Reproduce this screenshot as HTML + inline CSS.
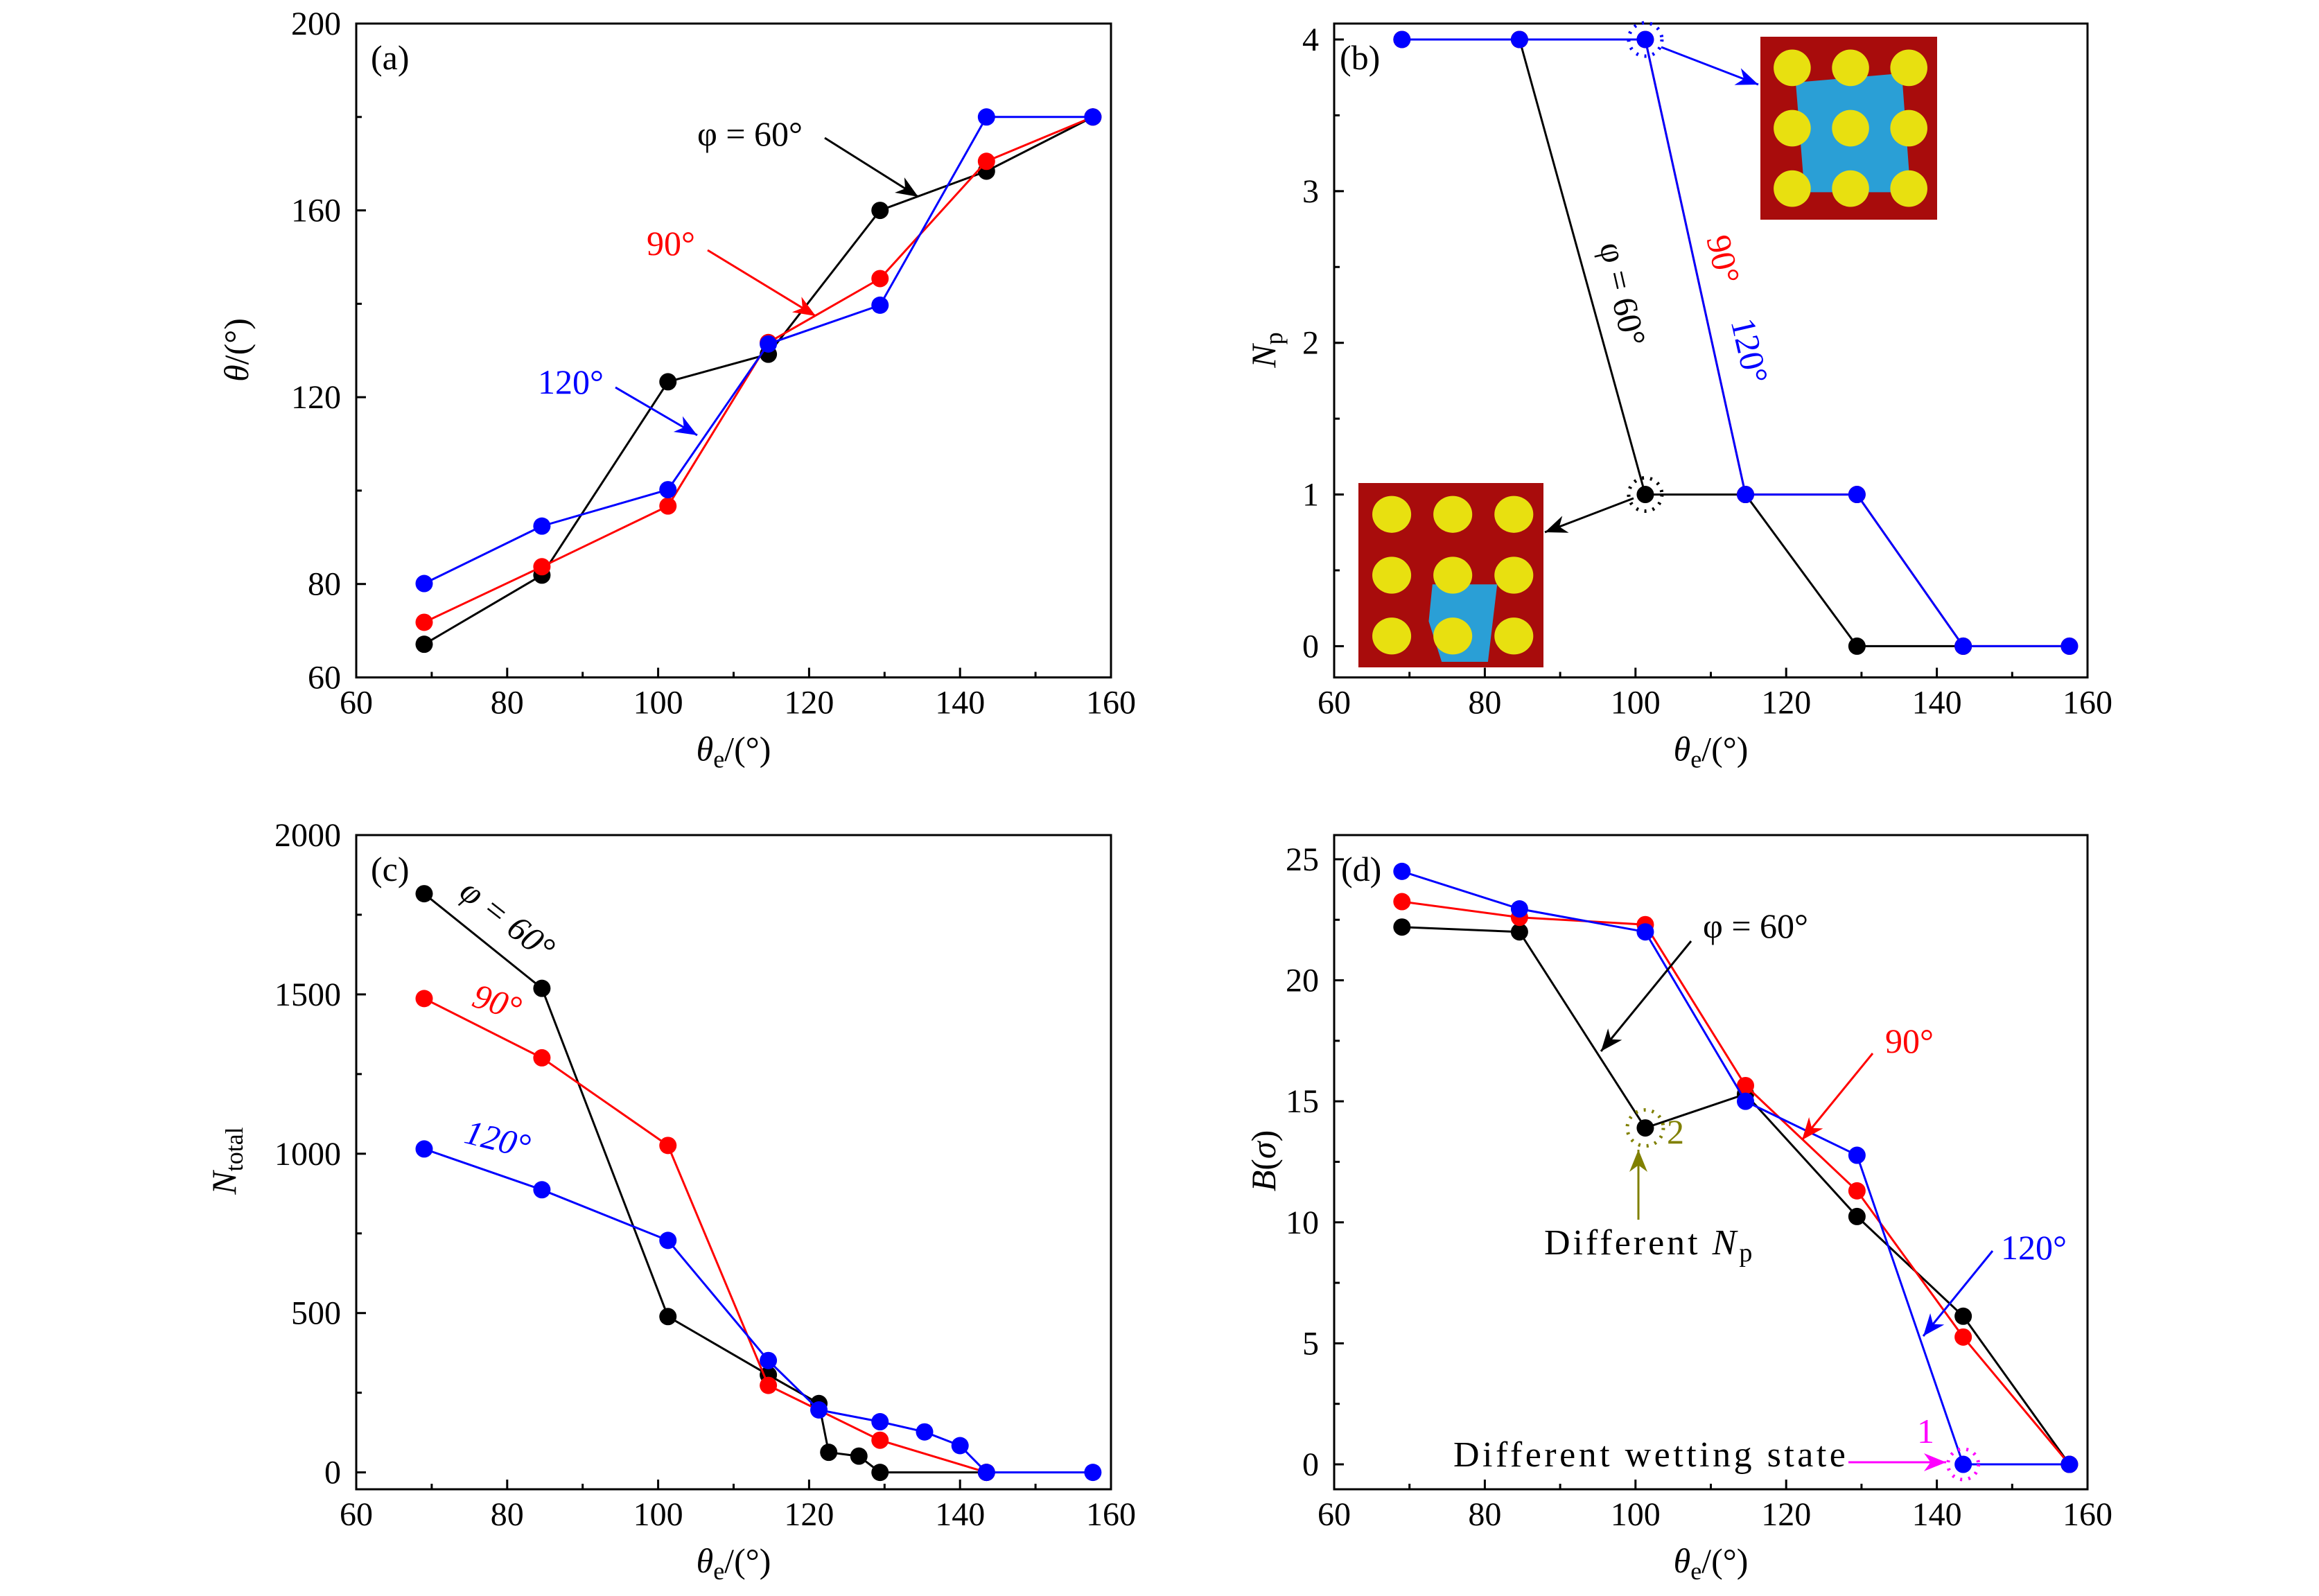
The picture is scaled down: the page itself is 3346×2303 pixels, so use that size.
<!DOCTYPE html>
<html>
<head>
<meta charset="utf-8">
<style>
html,body{margin:0;padding:0;background:#fff;}
svg{display:block;font-family:"Liberation Serif",serif;}
</style>
</head>
<body>
<svg id="fig" width="3346" height="2303" viewBox="0 0 3346 2303" xmlns="http://www.w3.org/2000/svg">
</svg>
<script>
// shared x categories (theta_e)
const xVals = [69.0, 84.6, 101.3, 114.6, 129.4, 143.5, 157.6];
// panel (a) theta
const aBlack = [67.1, 81.9, 123.3, 129.2, 160.0, 168.4, 180.0];
const aRed   = [71.8, 83.7, 96.7, 131.7, 145.4, 170.5, 180.0];
const aBlue  = [80.1, 92.4, 100.2, 131.4, 139.7, 180.0, 180.0];
// panel (b) Np
const bBlack = [4, 4, 1, 1, 0, 0, 0];
const bRed   = [4, 4, 4, 1, 1, 0, 0];
const bBlue  = [4, 4, 4, 1, 1, 0, 0];
// panel (c) Ntotal
const cBlackX = [69.0, 84.6, 101.3, 114.6, 121.3, 122.6, 126.6, 129.4, 143.5];
const cBlack  = [1816, 1519, 489, 306, 216, 63, 51, 0, 0];
const cRedX = [69.0, 84.6, 101.3, 114.6, 129.4, 143.5];
const cRed  = [1487, 1301, 1026, 273, 101, 0];
const cBlueX = [69.0, 84.6, 101.3, 114.6, 121.3, 129.4, 135.3, 140.0, 143.5, 157.6];
const cBlue  = [1015, 887, 728, 351, 196, 159, 127, 84, 0, 0];
// panel (d) B(sigma)
const dBlack = [22.2, 22.0, 13.9, 15.3, 10.24, 6.12, 0];
const dRed   = [23.25, 22.6, 22.3, 15.65, 11.3, 5.26, 0];
const dBlue  = [24.5, 22.95, 22.0, 15.0, 12.77, 0, 0];
// ticks
const xTicks = [60, 80, 100, 120, 140, 160];
const aTicks = [60, 80, 120, 160, 200];
const bTicks = [0, 1, 2, 3, 4];
const cTicks = [0, 500, 1000, 1500, 2000];
const dTicks = [0, 5, 10, 15, 20, 25];

const NS = "http://www.w3.org/2000/svg";
const svg = document.getElementById('fig');
function mk(tag, attrs, parent, text){
  const e = document.createElementNS(NS, tag);
  for (const k in attrs) e.setAttribute(k, attrs[k]);
  if (text !== undefined) e.textContent = text;
  (parent || svg).appendChild(e);
  return e;
}
const BLK="#000", RED="#ff0000", BLU="#0000ff";

function panel(name, box, ymin, ymax, yTicks, yMinorStep, yMinorStart){
  const g = mk('g', {});
  
  
  const sx = v => box.x0 + (v - 60) / 100 * (box.x1 - box.x0);
  const sy = v => box.y1 - (v - ymin) / (ymax - ymin) * (box.y1 - box.y0);
  const fr = mk('rect', {x:box.x0, y:box.y0, width:box.x1-box.x0, height:box.y1-box.y0, fill:'none', stroke:'#000','stroke-width':3}, g);
  
  
  xTicks.forEach(t => {
    const x = sx(t);
    mk('line', {x1:x, x2:x, y1:box.y1, y2:box.y1-14, stroke:'#000','stroke-width':3}, g);
    const tl = mk('text', {x:x, y:box.y1+52, 'text-anchor':'middle','font-size':48}, g, String(t));
    
    
  });
  for (let t = 70; t < 160; t += 20){
    const x = sx(t);
    mk('line', {x1:x, x2:x, y1:box.y1, y2:box.y1-8, stroke:'#000','stroke-width':3}, g);
  }
  yTicks.forEach(t => {
    const y = sy(t);
    mk('line', {x1:box.x0, x2:box.x0+14, y1:y, y2:y, stroke:'#000','stroke-width':3}, g);
    const tl = mk('text', {x:box.x0-22, y:y+16, 'text-anchor':'end','font-size':48}, g, String(t));
    
    
  });
  for (let t = yMinorStart; t < ymax; t += yMinorStep){
    const y = sy(t);
    mk('line', {x1:box.x0, x2:box.x0+8, y1:y, y2:y, stroke:'#000','stroke-width':3}, g);
  }
  const xl = mk('text', {x:(box.x0+box.x1)/2, y:box.y1+120, 'text-anchor':'middle','font-size':50}, g);
  
  
  mk('tspan', {'font-style':'italic'}, xl, 'θ');
  mk('tspan', {'font-size':36, dy:10}, xl, 'e');
  mk('tspan', {dy:-10}, xl, '/(°)');
  return {g, sx, sy};
}

function series(p, xs, ys, color, label){
  const pts = xs.map((x,i) => p.sx(x).toFixed(1) + ',' + p.sy(ys[i]).toFixed(1)).join(' ');
  const pl = mk('polyline', {points:pts, fill:'none', stroke:color, 'stroke-width':3}, p.g);
  
  
  xs.forEach((x,i) => {
    const c = mk('circle', {cx:p.sx(x), cy:p.sy(ys[i]), r:12.5, fill:color}, p.g);
    
    
  });
}
function txt(g, x, y, s, color, size, name, extra){
  const t = mk('text', Object.assign({x:x, y:y, fill:color, 'font-size':size||50}, extra||{}), g, s);
  
  
  return t;
}
function arrow(g, x1, y1, x2, y2, color, name){
  const a = mk('g', {}, g);
  
  
  mk('line', {x1, y1, x2, y2, stroke:color, 'stroke-width':3}, a);
  const ang = Math.atan2(y2-y1, x2-x1), L = 32, W = 13;
  const bx = x2 - L*Math.cos(ang), by = y2 - L*Math.sin(ang);
  const nx = -Math.sin(ang), ny = Math.cos(ang);
  const mx = x2 - 0.7*L*Math.cos(ang), my = y2 - 0.7*L*Math.sin(ang);
  mk('path', {d:`M${x2},${y2} L${bx+nx*W},${by+ny*W} L${mx},${my} L${bx-nx*W},${by-ny*W} Z`, fill:color}, a);
}
function dotCircle(g, cx, cy, r, color, name){
  const c = mk('circle', {cx, cy, r, fill:'none', stroke:color, 'stroke-width':5, 'stroke-dasharray':'3 9'}, g);
  
  
}
function ylabel(g, x, y, parts, name){
  const t = mk('text', {x:0, y:0, 'font-size':50, 'text-anchor':'middle', transform:`translate(${x},${y}) rotate(-90)`}, g);
  
  
  parts.forEach(p => mk('tspan', p.a, t, p.s));
}
function inset(g, x, y, w, h, wet, name){
  const s = mk('g', {}, g);
  
  
  mk('rect', {x, y, width:w, height:h, fill:'#a80c0c'}, s);
  if (wet === 'big') mk('path', {d:`M${x+w*0.2},${y+h*0.25} L${x+w*0.8},${y+h*0.2} L${x+w*0.85},${y+h*0.85} L${x+w*0.25},${y+h*0.85} Z`, fill:'#2a9fd6'}, s);
  else mk('path', {d:`M${x+w*0.4},${y+h*0.55} L${x+w*0.75},${y+h*0.55} L${x+w*0.7},${y+h*0.97} L${x+w*0.45},${y+h*0.97} L${x+w*0.38},${y+h*0.75} Z`, fill:'#2a9fd6'}, s);
  for (let i=0;i<3;i++) for (let j=0;j<3;j++){
    mk('ellipse', {cx:x+w*(0.18+0.33*i), cy:y+h*(0.17+0.33*j), rx:w*0.105, ry:h*0.1, fill:'#e8e010'}, s);
  }
}

// ---- panel a
const pa = panel('a', {x0:514,x1:1603,y0:34,y1:977.5}, 60, 200, aTicks, 40, 100);
series(pa, xVals, aBlack, BLK, 'a-phi60');
series(pa, xVals, aRed, RED, 'a-phi90');
series(pa, xVals, aBlue, BLU, 'a-phi120');
txt(pa.g, 535, 100, '(a)', BLK, 50, 'panel-label-a');
txt(pa.g, 1006, 210, 'φ = 60°', BLK, 50, 'a-annotation-60');
arrow(pa.g, 1190, 199, 1325, 284, BLK, 'a-arrow-60');
txt(pa.g, 933, 368, '90°', RED, 50, 'a-annotation-90');
arrow(pa.g, 1021, 361, 1177, 456, RED, 'a-arrow-90');
txt(pa.g, 776, 568, '120°', BLU, 50, 'a-annotation-120');
arrow(pa.g, 888, 559, 1006, 628, BLU, 'a-arrow-120');
ylabel(pa.g, 358, 505, [{s:'θ',a:{'font-style':'italic'}},{s:'/(°)',a:{}}], 'y-axis-title-a');

// ---- panel b
const pb = panel('b', {x0:1925,x1:3012,y0:34,y1:977.5}, -0.206, 4.105, bTicks, 0.5, 0.5);
series(pb, xVals.slice(1,6), bBlack.slice(1,6), BLK, 'b-phi60');
series(pb, xVals, bRed, RED, 'b-phi90');
series(pb, xVals, bBlue, BLU, 'b-phi120');
txt(pb.g, 1933, 100, '(b)', BLK, 50, 'panel-label-b');
dotCircle(pb.g, pb.sx(101.3), pb.sy(4), 24, BLU, 'b-highlight-circle-top');
dotCircle(pb.g, pb.sx(101.3), pb.sy(1), 24, BLK, 'b-highlight-circle-bottom');
inset(pb.g, 2540, 53, 255, 264, 'big', 'b-inset-snapshot-top');
inset(pb.g, 1960, 697, 267, 266, 'small', 'b-inset-snapshot-bottom');
arrow(pb.g, 2397, 68, 2537, 122, BLU, 'b-arrow-top');
arrow(pb.g, 2357, 719, 2229, 768, BLK, 'b-arrow-bottom');
txt(pb.g, 0, 0, 'φ = 60°', BLK, 50, 'b-annotation-60', {'text-anchor':'middle', transform:'translate(2325,428) rotate(77)'});
txt(pb.g, 0, 0, '90°', RED, 50, 'b-annotation-90', {'text-anchor':'middle', transform:'translate(2470,378) rotate(77)'});
txt(pb.g, 0, 0, '120°', BLU, 50, 'b-annotation-120', {'text-anchor':'middle', transform:'translate(2508,510) rotate(77)'});
ylabel(pb.g, 1840, 505, [{s:'N',a:{'font-style':'italic'}},{s:'p',a:{'font-size':36,dy:10}}], 'y-axis-title-b');

// ---- panel c
const pc = panel('c', {x0:514,x1:1603,y0:1205,y1:2149}, -53, 2000, cTicks, 500, 250);
series(pc, cBlackX, cBlack, BLK, 'c-phi60');
series(pc, cRedX, cRed, RED, 'c-phi90');
series(pc, cBlueX, cBlue, BLU, 'c-phi120');
txt(pc.g, 535, 1271, '(c)', BLK, 50, 'panel-label-c');
txt(pc.g, 0, 0, 'φ = 60°', BLK, 50, 'c-annotation-60', {'text-anchor':'middle', transform:'translate(722,1340) rotate(38)', 'font-style':'italic'});
txt(pc.g, 0, 0, '90°', RED, 50, 'c-annotation-90', {'text-anchor':'middle', transform:'translate(712,1462) rotate(18)', 'font-style':'italic'});
txt(pc.g, 0, 0, '120°', BLU, 50, 'c-annotation-120', {'text-anchor':'middle', transform:'translate(714,1660) rotate(14)', 'font-style':'italic'});
ylabel(pc.g, 340, 1675, [{s:'N',a:{'font-style':'italic'}},{s:'total',a:{'font-size':36,dy:10}}], 'y-axis-title-c');

// ---- panel d
const pd = panel('d', {x0:1925,x1:3012,y0:1205,y1:2149}, -1.03, 26.0, dTicks, 5, 2.5);
series(pd, xVals, dBlack, BLK, 'd-phi60');
series(pd, xVals, dRed, RED, 'd-phi90');
series(pd, xVals, dBlue, BLU, 'd-phi120');
txt(pd.g, 1935, 1271, '(d)', BLK, 50, 'panel-label-d');
txt(pd.g, 2457, 1353, 'φ = 60°', BLK, 50, 'd-annotation-60');
arrow(pd.g, 2440, 1358, 2310, 1517, BLK, 'd-arrow-60');
txt(pd.g, 2720, 1519, '90°', RED, 50, 'd-annotation-90');
arrow(pd.g, 2702, 1520, 2600, 1645, RED, 'd-arrow-90');
txt(pd.g, 2887, 1817, '120°', BLU, 50, 'd-annotation-120');
arrow(pd.g, 2875, 1805, 2775, 1928, BLU, 'd-arrow-120');
dotCircle(pd.g, pd.sx(101.3), pd.sy(13.9), 26, '#808000', 'd-highlight-circle-np');
txt(pd.g, 2405, 1650, '2', '#808000', 50, 'd-marker-2');
arrow(pd.g, 2364, 1760, 2364, 1659, '#808000', 'd-arrow-np');
const dn = txt(pd.g, 2228, 1810, 'Different ', BLK, 52, 'd-annotation-different-np', {'letter-spacing':4});
mk('tspan', {'font-style':'italic'}, dn, 'N');
mk('tspan', {'font-size':38, dy:10}, dn, 'p');
txt(pd.g, 2097, 2116, 'Different wetting state', BLK, 52, 'd-annotation-wetting-state', {'letter-spacing':4.5});
arrow(pd.g, 2667, 2110, 2808, 2110, '#ff00ff', 'd-arrow-wetting');
txt(pd.g, 2766, 2082, '1', '#ff00ff', 50, 'd-marker-1');
dotCircle(pd.g, pd.sx(143.5), pd.sy(0), 22, '#ff00ff', 'd-highlight-circle-wetting');
ylabel(pd.g, 1840, 1675, [{s:'B',a:{'font-style':'italic'}},{s:'(',a:{}},{s:'σ',a:{'font-style':'italic'}},{s:')',a:{}}], 'y-axis-title-d');
</script>
</body>
</html>
